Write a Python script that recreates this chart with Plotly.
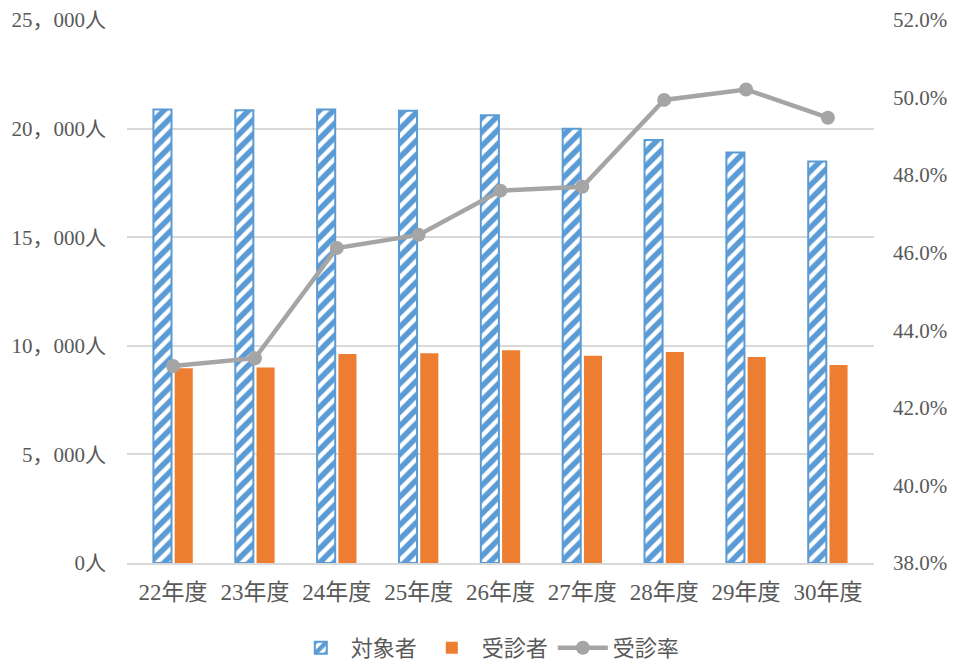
import plotly.graph_objects as go

categories = ["22年度", "23年度", "24年度", "25年度", "26年度", "27年度", "28年度", "29年度", "30年度"]
targets = [20880, 20850, 20880, 20820, 20620, 19990, 19480, 18900, 18480]
examinees = [8970, 9000, 9620, 9660, 9800, 9540, 9720, 9480, 9120]
rates = [43.08, 43.28, 46.12, 46.46, 47.6, 47.7, 49.94, 50.21, 49.48]

left_vals = [0, 5000, 10000, 15000, 20000, 25000]
left_text = ["0人", "5，000人", "10，000人", "15，000人", "20，000人", "25，000人"]
right_vals = [38, 40, 42, 44, 46, 48, 50, 52]
right_text = ["38.0%", "40.0%", "42.0%", "44.0%", "46.0%", "48.0%", "50.0%", "52.0%"]

BLUE = "#5B9BD5"
ORANGE = "#ED7D31"
GRAY = "#A5A5A5"
TXT = "#595959"
FONT = "Liberation Serif, Noto Sans CJK JP, serif"

fig = go.Figure()
fig.add_trace(go.Bar(
    x=categories, y=targets, name="対象者",
    marker=dict(color="white", line=dict(color=BLUE, width=2),
                pattern=dict(shape="/", fgcolor=BLUE, fgopacity=1, bgcolor="white",
                             size=10, solidity=0.55)),
))
fig.add_trace(go.Bar(
    x=categories, y=examinees, name="受診者",
    marker=dict(color=ORANGE, line=dict(color=ORANGE, width=0)),
))
fig.add_trace(go.Scatter(
    x=categories, y=rates, name="受診率", yaxis="y2", mode="lines+markers",
    line=dict(color=GRAY, width=4.5), marker=dict(color=GRAY, size=14),
))

fig.update_layout(
    width=957, height=666,
    margin=dict(l=127, r=83, t=20, b=103, autoexpand=False),
    paper_bgcolor="white", plot_bgcolor="white",
    font=dict(family=FONT, size=21, color=TXT),
    barmode="group", bargap=0.48, bargroupgap=0.15,
    showlegend=True,
    legend=dict(orientation="h", xref="paper", x=0.483, xanchor="center",
                yref="container", y=0.027, yanchor="middle",
                font=dict(size=22, color=TXT), itemwidth=50, traceorder="normal"),
    xaxis=dict(showgrid=False, showline=True, linecolor="#D9D9D9", linewidth=1.5,
               ticks="", tickfont=dict(size=23, color=TXT), ticklabelstandoff=8),
    yaxis=dict(range=[0, 25000], tickvals=left_vals, ticktext=left_text,
               showgrid=True, gridcolor="#D9D9D9", gridwidth=1.5, zeroline=False,
               showline=False, ticks="", ticklabelstandoff=20, tickfont=dict(size=21, color=TXT)),
    yaxis2=dict(range=[38, 52], tickvals=right_vals, ticktext=right_text, overlaying="y",
                side="right", showgrid=False, zeroline=False, showline=False, ticks="",
                ticklabelstandoff=18, tickfont=dict(size=21, color=TXT)),
)

fig.write_html("out.html")
